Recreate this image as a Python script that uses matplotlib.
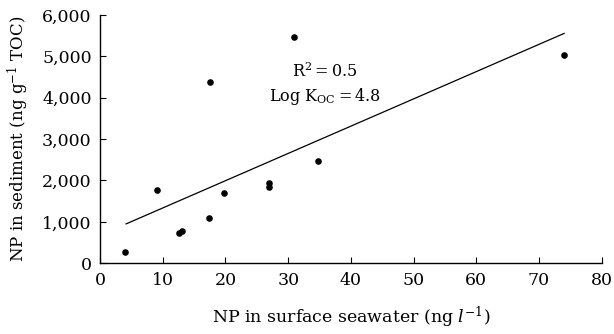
import matplotlib
matplotlib.use("Agg")
import matplotlib.pyplot as plt

plt.rcParams['font.family'] = ['DejaVu Serif']
plt.rcParams['mathtext.fontset'] = 'dejavuserif'

# data
water_ng_l = [3.9, 9.0, 12.6, 13.0, 17.4, 17.5, 19.8, 27.0, 27.0, 31.0, 34.7, 74.0]
sediment_ng_g_toc = [260, 1760, 725, 770, 1095, 4370, 1690, 1930, 1850, 5470, 2480, 5030]
fit_x = [4.15, 74.0]
fit_y = [950, 5555]
x_ticks = [0, 10, 20, 30, 40, 50, 60, 70, 80]
y_ticks = [0, 1000, 2000, 3000, 4000, 5000, 6000]
y_tick_labels = ['0', '1,000', '2,000', '3,000', '4,000', '5,000', '6,000']

fig = plt.figure(figsize=(6.14, 3.34), dpi=100)
ax = fig.add_axes([0.163, 0.212, 0.817, 0.743])

ax.plot(fit_x, fit_y, color='black', linewidth=0.9)
ax.scatter(water_ng_l, sediment_ng_g_toc, s=14, color='black', zorder=3)

ax.set_xlim(0, 80)
ax.set_ylim(0, 6000)
ax.set_xticks(x_ticks)
ax.set_yticks(y_ticks)
ax.set_yticklabels(y_tick_labels)
for s in ['top', 'right']:
    ax.spines[s].set_visible(False)
for s in ['left', 'bottom']:
    ax.spines[s].set_linewidth(1.0)
ax.tick_params(direction='in', length=4, width=0.8, labelsize=12.5, pad=6)

ax.set_xlabel(r'NP in surface seawater (ng $l^{-1}$)', fontsize=12.5, labelpad=12)
ax.set_ylabel(r'NP in sediment (ng g$^{-1}$ TOC)', fontsize=12, labelpad=8)

ax.text(35.8, 4620, 'R$^2$\u2009=\u20090.5', fontsize=11.5, ha='center', va='center')
ax.text(35.8, 4020, 'Log K$_{\\rm OC}$\u2009=\u20094.8', fontsize=11.5, ha='center', va='center')

fig.savefig('out.png', dpi=100)
